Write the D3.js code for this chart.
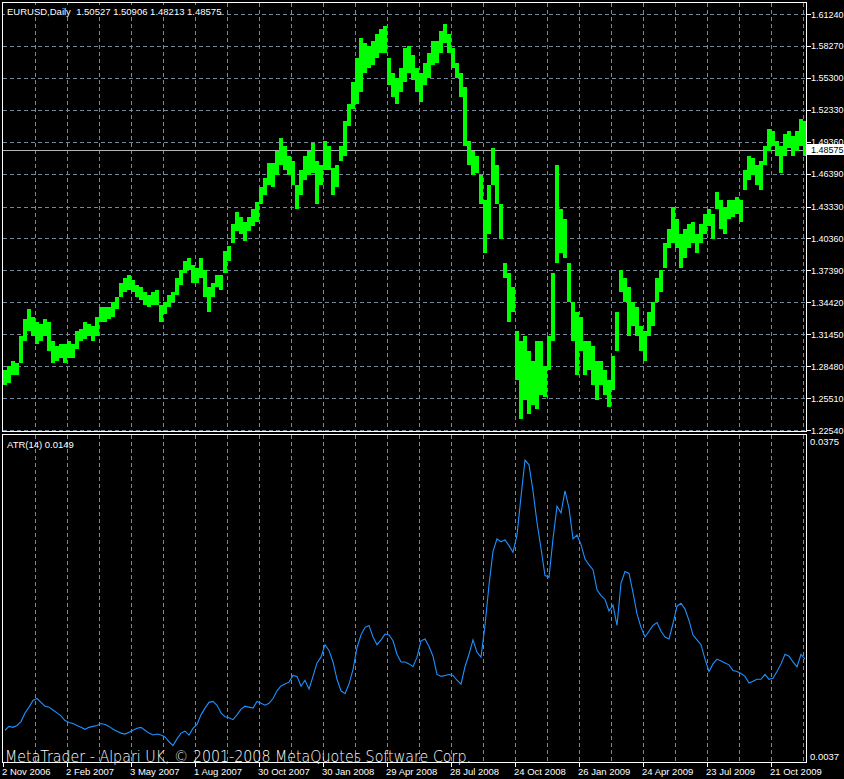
<!DOCTYPE html>
<html>
<head>
<meta charset="utf-8">
<script src="https://cdn.jsdelivr.net/npm/d3@7/dist/d3.min.js"></script>
<style>
  html, body { margin: 0; padding: 0; background: #000; }
  svg { display: block; }
  text { font-family: Tahoma, "Liberation Sans", Arial, sans-serif; }
</style>
</head>
<body>
<div id="chart"></div>
<script>
// ---------- DATA (one value per ~4 trading days) ----------
const symbolTitle = "EURUSD,Daily  1.50527 1.50906 1.48213 1.48575";
const atrTitle = "ATR(14) 0.0149";
const lastPrice = 1.48575;
const lastPriceLabel = "1.48575";

const priceHigh = [
  1.2808,1.2853,1.2899,1.2876,1.3126,1.3285,1.3376,1.3308,1.3262,1.3240,1.3285,1.3262,1.3081,1.3035,1.3058,1.3058,1.3081,1.3058,1.3171,1.3194,1.3262,1.3240,1.3217,1.3308,1.3399,1.3399,1.3399,1.3444,1.3489,1.3626,1.3671,1.3694,1.3648,1.3603,1.3580,1.3535,1.3512,1.3535,1.3558,1.3421,1.3444,1.3512,1.3535,1.3671,1.3739,1.3830,1.3853,1.3785,1.3762,1.3853,1.3739,1.3580,1.3626,1.3694,1.3694,1.3921,1.3966,1.4171,1.4284,1.4239,1.4193,1.4239,1.4307,1.4375,1.4511,1.4602,1.4738,
  1.4738,1.4852,1.4966,1.4897,1.4807,1.4761,1.4534,1.4670,1.4807,1.4852,1.4920,1.4761,1.4716,1.4943,1.4897,1.4693,1.4716,1.4897,1.5124,1.5283,1.5488,1.5715,1.5897,1.5851,1.5829,1.5874,1.5942,1.5988,1.6010,1.5715,1.5579,1.5533,1.5624,1.5806,1.5829,1.5738,1.5624,1.5579,1.5670,1.5760,1.5874,1.5874,1.5965,1.6033,1.5942,1.5806,1.5670,1.5579,1.5442,1.4943,1.4852,1.4807,1.4625,1.4398,1.4534,1.4875,1.4716,1.4352,1.3807,1.3716,1.3580,1.3171,1.3081,1.3126,1.2990,1.2899,1.3081,
  1.3081,1.2853,1.3126,1.3716,1.4716,1.4307,1.4216,1.3807,1.3444,1.3353,1.3308,1.3081,1.3081,1.3035,1.2899,1.2899,1.2808,1.2717,1.2944,1.3353,1.3739,1.3671,1.3580,1.3444,1.3399,1.3217,1.3171,1.3353,1.3444,1.3671,1.3739,1.3989,1.4125,1.4330,1.4216,1.4080,1.4125,1.4171,1.4193,1.4080,1.4171,1.4262,1.4307,1.4262,1.4466,1.4398,1.4330,1.4398,1.4398,1.4420,1.4398,1.4670,1.4807,1.4784,1.4716,1.4761,1.4897,1.5056,1.5034,1.4943,1.4897,1.5011,1.5034,1.4988,1.5034,1.5147,1.5124
];
const priceLow = [
  1.2672,1.2695,1.2763,1.2763,1.2876,1.3081,1.3171,1.3126,1.3058,1.3081,1.3126,1.2990,1.2876,1.2899,1.2922,1.2876,1.2922,1.2922,1.3012,1.3081,1.3103,1.3126,1.3081,1.3126,1.3262,1.3262,1.3285,1.3308,1.3376,1.3489,1.3535,1.3558,1.3535,1.3489,1.3467,1.3421,1.3399,1.3421,1.3421,1.3262,1.3330,1.3399,1.3444,1.3512,1.3603,1.3716,1.3739,1.3626,1.3626,1.3671,1.3489,1.3353,1.3489,1.3580,1.3558,1.3716,1.3830,1.3989,1.4103,1.4080,1.4012,1.4103,1.4148,1.4193,1.4352,1.4443,1.4534,
  1.4511,1.4625,1.4716,1.4670,1.4625,1.4534,1.4307,1.4443,1.4579,1.4625,1.4648,1.4352,1.4534,1.4670,1.4670,1.4443,1.4511,1.4761,1.4807,1.5079,1.5238,1.5283,1.5397,1.5579,1.5624,1.5647,1.5715,1.5760,1.5760,1.5465,1.5352,1.5283,1.5397,1.5488,1.5579,1.5511,1.5397,1.5306,1.5465,1.5533,1.5647,1.5670,1.5760,1.5851,1.5760,1.5624,1.5533,1.5352,1.4897,1.4716,1.4625,1.4648,1.4352,1.3898,1.4080,1.4534,1.4352,1.4034,1.3671,1.3262,1.3353,1.2717,1.2354,1.2536,1.2399,1.2490,1.2445,
  1.2581,1.2558,1.2808,1.3081,1.3807,1.3898,1.3853,1.3444,1.3081,1.2763,1.2990,1.2763,1.2808,1.2672,1.2536,1.2672,1.2581,1.2467,1.2626,1.2990,1.3535,1.3444,1.3126,1.3217,1.3126,1.2990,1.2899,1.3126,1.3217,1.3444,1.3535,1.3762,1.3944,1.3989,1.3944,1.3762,1.3853,1.3944,1.3989,1.3898,1.3989,1.4080,1.4148,1.4034,1.4307,1.4125,1.4080,1.4216,1.4239,1.4262,1.4193,1.4489,1.4579,1.4625,1.4534,1.4489,1.4716,1.4852,1.4897,1.4807,1.4648,1.4807,1.4875,1.4807,1.4852,1.4897,1.4807
];
const atrValues = [
  0.0069,0.0073,0.0072,0.0074,0.0078,0.0087,0.0093,0.0100,0.0102,0.0098,0.0094,0.0093,0.0090,0.0087,0.0084,0.0079,0.0077,0.0076,0.0074,0.0072,
  0.0070,0.0072,0.0073,0.0074,0.0076,0.0075,0.0073,0.0070,0.0068,0.0066,0.0065,0.0067,0.0069,0.0071,0.0072,0.0069,0.0066,0.0064,0.0065,0.0064,
  0.0062,0.0057,0.0053,0.0060,0.0066,0.0068,0.0064,0.0071,0.0075,0.0085,0.0092,0.0098,0.0099,0.0095,0.0087,0.0083,0.0082,0.0080,0.0085,0.0091,
  0.0094,0.0093,0.0092,0.0099,0.0097,0.0095,0.0097,0.0102,0.0110,0.0115,0.0117,0.0119,0.0126,0.0125,0.0115,0.0121,0.0112,0.0125,0.0139,0.0145,
  0.0158,0.0152,0.0140,0.0122,0.0110,0.0107,0.0117,0.0132,0.0155,0.0168,0.0176,0.0178,0.0166,0.0158,0.0163,0.0169,0.0168,0.0162,0.0148,0.0140,
  0.0140,0.0138,0.0135,0.0145,0.0162,0.0164,0.0156,0.0146,0.0127,0.0125,0.0126,0.0127,0.0126,0.0121,0.0117,0.0135,0.0148,0.0163,0.0150,0.0145,
  0.0178,0.0220,0.0255,0.0268,0.0265,0.0267,0.0261,0.0254,0.0272,0.0312,0.0350,0.0345,0.0318,0.0285,0.0258,0.0230,0.0228,0.0268,0.0302,0.0295,
  0.0318,0.0300,0.0268,0.0272,0.0262,0.0247,0.0241,0.0236,0.0215,0.0209,0.0205,0.0193,0.0199,0.0178,0.0222,0.0234,0.0232,0.0212,0.0190,0.0176,
  0.0166,0.0172,0.0178,0.0181,0.0172,0.0166,0.0164,0.0180,0.0198,0.0201,0.0195,0.0183,0.0168,0.0163,0.0158,0.0143,0.0130,0.0138,0.0143,0.0141,
  0.0139,0.0137,0.0131,0.0130,0.0128,0.0125,0.0118,0.0120,0.0122,0.0122,0.0127,0.0122,0.0123,0.0130,0.0138,0.0148,0.0146,0.0140,0.0135,0.0148,
  0.0143
];
const priceTicks = [1.61240,1.58270,1.55300,1.52330,1.49360,1.46390,1.43330,1.40360,1.37390,1.34420,1.31450,1.28480,1.25510,1.22540];
const atrTickLabels = [0.0375, 0.0037];
const dateLabels = ["2 Nov 2006","2 Feb 2007","3 May 2007","1 Aug 2007","30 Oct 2007","30 Jan 2008","29 Apr 2008","28 Jul 2008","24 Oct 2008","26 Jan 2009","24 Apr 2009","23 Jul 2009","21 Oct 2009"];
const watermark = "MetaTrader - Alpari UK, \u00A9 2001-2008 MetaQuotes Software Corp.";

// ---------- LAYOUT ----------
const W = 844, H = 779;
const left = 2.5, right = 806.5;
const mainTop = 2.5, mainBottom = 431.5;
const atrTop = 434.5, atrBottom = 762.5;
const nBars = Math.min(priceHigh.length, priceLow.length);
const barsPerLabel = 16, barsPerGrid = 8;

const x = d3.scaleLinear().domain([0, 201]).range([3, 807]);
const y = d3.scaleLinear().domain([1.22540, 1.61240]).range([430, 14]);
const ya = d3.scaleLinear().domain([0.0037, 0.0375]).range([761, 436]);

const svg = d3.select("#chart").append("svg").attr("width", W).attr("height", H);
svg.append("rect").attr("width", W).attr("height", H).attr("fill", "#000");

const gridColor = "#778899";
const dash = "4,3";

svg.append("clipPath").attr("id", "clipMain").append("rect")
  .attr("x", 3).attr("y", 3).attr("width", right - 3).attr("height", mainBottom - 3);
svg.append("clipPath").attr("id", "clipAtr").append("rect")
  .attr("x", 3).attr("y", atrTop + 1).attr("width", right - 3).attr("height", atrBottom - atrTop - 1);

// vertical grid (both panels)
const gridIdx = d3.range(barsPerGrid, 201, barsPerGrid);
const grid = svg.append("g").attr("stroke", gridColor).attr("stroke-dasharray", dash).attr("shape-rendering", "crispEdges");
grid.selectAll("line.vm").data(gridIdx).join("line")
  .attr("x1", d => Math.round(x(d)) + 0.5).attr("x2", d => Math.round(x(d)) + 0.5)
  .attr("y1", mainTop).attr("y2", mainBottom);
grid.selectAll("line.va").data(gridIdx).join("line")
  .attr("x1", d => Math.round(x(d)) + 0.5).attr("x2", d => Math.round(x(d)) + 0.5)
  .attr("y1", atrTop).attr("y2", atrBottom);
grid.selectAll("line.h").data(priceTicks).join("line")
  .attr("x1", left).attr("x2", right)
  .attr("y1", d => Math.round(y(d)) + 0.5).attr("y2", d => Math.round(y(d)) + 0.5);

// current price line
svg.append("line").attr("x1", left).attr("x2", right)
  .attr("y1", Math.round(y(lastPrice)) + 0.5).attr("y2", Math.round(y(lastPrice)) + 0.5)
  .attr("stroke", "#b4b4b4").attr("shape-rendering", "crispEdges");

// price bars
svg.append("g").attr("clip-path", "url(#clipMain)")
  .selectAll("rect").data(d3.range(nBars)).join("rect")
  .attr("x", i => x(i)).attr("width", i => x(i + 1) - x(i))
  .attr("y", i => y(priceHigh[i]))
  .attr("height", i => Math.max(1, y(priceLow[i]) - y(priceHigh[i])))
  .attr("fill", "#00ff00").attr("shape-rendering", "crispEdges");

// ATR line
const atrLine = d3.line().x((d, i) => x(i + 0.5)).y(d => ya(d));
svg.append("path").attr("clip-path", "url(#clipAtr)")
  .datum(atrValues).attr("d", atrLine)
  .attr("fill", "none").attr("stroke", "#1e90ff").attr("stroke-width", 1.1);

// panel borders
const border = svg.append("g").attr("fill", "none").attr("stroke", "#fff").attr("shape-rendering", "crispEdges");
border.append("rect").attr("x", left).attr("y", mainTop).attr("width", right - left).attr("height", mainBottom - mainTop);
border.append("rect").attr("x", left).attr("y", atrTop).attr("width", right - left).attr("height", atrBottom - atrTop);

// right price axis
const yAxis = svg.append("g");
yAxis.selectAll("line").data(priceTicks).join("line")
  .attr("x1", right).attr("x2", right + 4)
  .attr("y1", d => Math.round(y(d)) + 0.5).attr("y2", d => Math.round(y(d)) + 0.5)
  .attr("stroke", "#fff").attr("shape-rendering", "crispEdges");
yAxis.selectAll("text").data(priceTicks).join("text")
  .attr("x", 811).attr("y", d => y(d) + 3.5)
  .attr("fill", "#fff").attr("font-size", "9px")
  .text(d => d.toFixed(5));

// current price label
svg.append("rect").attr("x", 807).attr("y", 144).attr("width", 37).attr("height", 11).attr("fill", "#fff");
svg.append("text").attr("x", 811).attr("y", 153).attr("fill", "#000").attr("font-size", "9px")
  .text(lastPriceLabel);

// ATR axis labels
svg.selectAll("text.atr").data(atrTickLabels).join("text")
  .attr("x", 810).attr("y", (d, i) => i === 0 ? ya(d) + 8.5 : ya(d) - 1.5)
  .attr("fill", "#fff").attr("font-size", "9.5px")
  .text(d => d.toFixed(4));

// x axis ticks & labels
const labelIdx = dateLabels.map((d, i) => i * barsPerLabel);
svg.selectAll("line.xt").data(labelIdx).join("line")
  .attr("x1", d => Math.round(x(d)) + 0.5).attr("x2", d => Math.round(x(d)) + 0.5)
  .attr("y1", atrBottom).attr("y2", atrBottom + 4)
  .attr("stroke", "#fff").attr("shape-rendering", "crispEdges");
svg.selectAll("text.xl").data(dateLabels).join("text")
  .attr("x", (d, i) => x(labelIdx[i]) - 1).attr("y", 775)
  .attr("fill", "#fff").attr("font-size", "9.5px")
  .text(d => d);

// header
svg.append("rect").attr("x", 5).attr("y", 5).attr("width", 214).attr("height", 12).attr("fill", "#000");
svg.append("text").attr("x", 7).attr("y", 14.5).attr("fill", "#fff").attr("font-size", "9.5px")
  .attr("xml:space", "preserve").style("white-space", "pre").text(symbolTitle);
svg.append("text").attr("x", 7).attr("y", 448).attr("fill", "#fff").attr("font-size", "9.5px").text(atrTitle);

// watermark
svg.append("text").attr("x", 5).attr("y", 761.5)
  .attr("fill", "#fff").attr("font-size", "15px").attr("font-weight", 200)
  .attr("textLength", 466).attr("lengthAdjust", "spacingAndGlyphs")
  .style("font-family", "'DejaVu Sans', 'Liberation Sans', sans-serif")
  .text(watermark);
</script>
</body>
</html>
